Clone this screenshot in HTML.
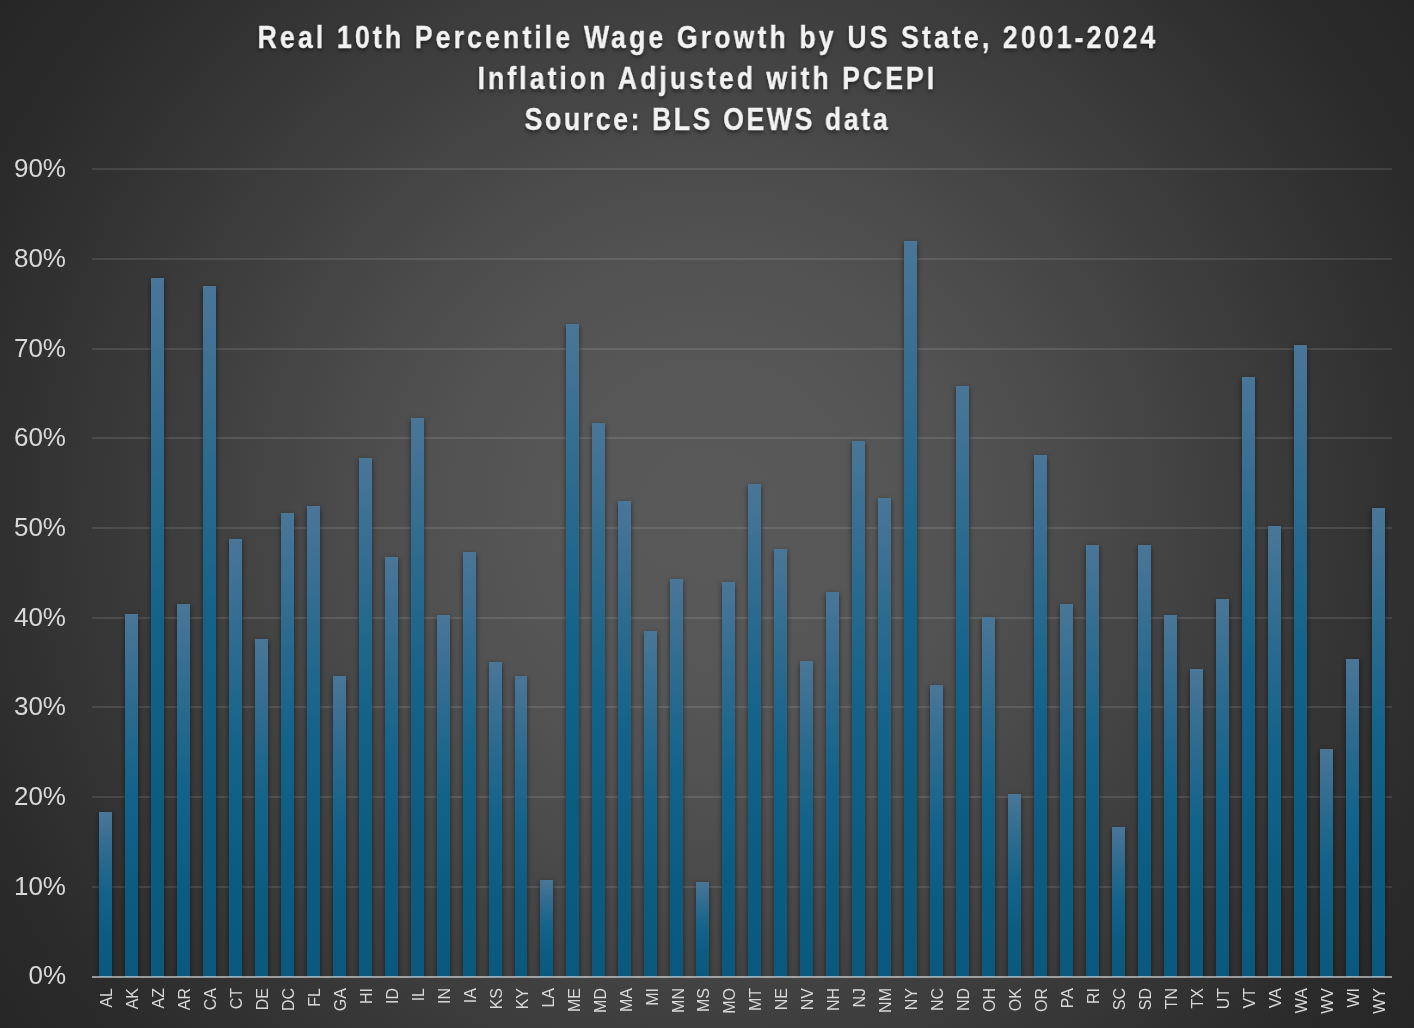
<!DOCTYPE html><html><head><meta charset="utf-8"><title>chart</title><style>
html,body{margin:0;padding:0}
body{width:1414px;height:1028px;overflow:hidden;position:relative;font-family:"Liberation Sans",sans-serif;
background:radial-gradient(circle farthest-corner at 50% 50%,#595959 0%,#585858 10%,#565656 20%,#525252 30%,#4c4c4c 40%,#454545 50%,#3e3e3e 60%,#373737 70%,#303030 80%,#2a2a2a 90%,#262626 100%);}
.t{position:absolute;left:0;width:1414px;text-align:center;color:#f2f2f2;font-weight:bold;font-size:31px;line-height:41px;white-space:nowrap}
.t span{display:inline-block;transform:scaleX(.86);transform-origin:50% 50%;text-shadow:0 2px 4px rgba(0,0,0,.6);will-change:transform;-webkit-text-stroke:.35px #f2f2f2}
.g{position:absolute;left:92px;width:1300px;height:2px;background:rgba(255,255,255,.105)}
.bw{position:absolute;left:0;top:0;width:1414px;height:978px;overflow:hidden}
.ax{position:absolute;left:92px;width:1300px;top:976px;height:2px;background:rgba(255,255,255,.52)}
.y{position:absolute;left:0;width:66px;text-align:right;color:#d9d9d9;font-size:26px;line-height:30px;height:30px;will-change:transform}
.b{position:absolute;width:13px;background:linear-gradient(to bottom,#4a7698 0%,#2c6b8f 25%,#12628a 50%,#0c5c82 75%,#0a587e 100%);box-shadow:0 2px 5px rgba(0,0,0,.55)}
.x{position:absolute;top:988px;width:26px;height:40px;color:#d9d9d9;font-size:16px;will-change:transform}
.x span{position:absolute;left:15px;top:0;transform-origin:0 0;transform:rotate(-90deg) translate(-100%,-50%);white-space:nowrap;line-height:20px;display:block}
</style></head><body>
<div class="t" style="top:16.5px"><span style="letter-spacing:3.62px;padding-left:3.62px;margin-left:-1.0px">Real 10th Percentile Wage Growth by US State, 2001-2024</span></div>
<div class="t" style="top:57.5px"><span style="letter-spacing:3.5px;padding-left:3.5px;margin-left:-2px">Inflation Adjusted with PCEPI</span></div>
<div class="t" style="top:98.5px"><span style="letter-spacing:3.02px;padding-left:3.02px;margin-left:-1.0px">Source: BLS OEWS data</span></div>
<div class="g" style="top:168px"></div>
<div class="g" style="top:258px"></div>
<div class="g" style="top:348px"></div>
<div class="g" style="top:437px"></div>
<div class="g" style="top:527px"></div>
<div class="g" style="top:617px"></div>
<div class="g" style="top:706px"></div>
<div class="g" style="top:796px"></div>
<div class="g" style="top:886px"></div>
<div class="y" style="top:152.5px">90%</div>
<div class="y" style="top:242.5px">80%</div>
<div class="y" style="top:332.5px">70%</div>
<div class="y" style="top:421.5px">60%</div>
<div class="y" style="top:511.5px">50%</div>
<div class="y" style="top:601.5px">40%</div>
<div class="y" style="top:690.5px">30%</div>
<div class="y" style="top:780.5px">20%</div>
<div class="y" style="top:870.5px">10%</div>
<div class="y" style="top:959.5px">0%</div>
<div class="bw">
<div class="b" style="left:99px;top:812px;height:165px"></div>
<div class="b" style="left:125px;top:614px;height:363px"></div>
<div class="b" style="left:151px;top:278px;height:699px"></div>
<div class="b" style="left:177px;top:604px;height:373px"></div>
<div class="b" style="left:203px;top:286px;height:691px"></div>
<div class="b" style="left:229px;top:539px;height:438px"></div>
<div class="b" style="left:255px;top:639px;height:338px"></div>
<div class="b" style="left:281px;top:513px;height:464px"></div>
<div class="b" style="left:307px;top:506px;height:471px"></div>
<div class="b" style="left:333px;top:676px;height:301px"></div>
<div class="b" style="left:359px;top:458px;height:519px"></div>
<div class="b" style="left:385px;top:557px;height:420px"></div>
<div class="b" style="left:411px;top:418px;height:559px"></div>
<div class="b" style="left:437px;top:615px;height:362px"></div>
<div class="b" style="left:463px;top:552px;height:425px"></div>
<div class="b" style="left:489px;top:662px;height:315px"></div>
<div class="b" style="left:515px;top:676px;height:301px;width:12px"></div>
<div class="b" style="left:540px;top:880px;height:97px"></div>
<div class="b" style="left:566px;top:324px;height:653px"></div>
<div class="b" style="left:592px;top:423px;height:554px"></div>
<div class="b" style="left:618px;top:501px;height:476px"></div>
<div class="b" style="left:644px;top:631px;height:346px"></div>
<div class="b" style="left:670px;top:579px;height:398px"></div>
<div class="b" style="left:696px;top:882px;height:95px"></div>
<div class="b" style="left:722px;top:582px;height:395px"></div>
<div class="b" style="left:748px;top:484px;height:493px"></div>
<div class="b" style="left:774px;top:549px;height:428px"></div>
<div class="b" style="left:800px;top:661px;height:316px"></div>
<div class="b" style="left:826px;top:592px;height:385px"></div>
<div class="b" style="left:852px;top:441px;height:536px"></div>
<div class="b" style="left:878px;top:498px;height:479px"></div>
<div class="b" style="left:904px;top:241px;height:736px"></div>
<div class="b" style="left:930px;top:685px;height:292px"></div>
<div class="b" style="left:956px;top:386px;height:591px"></div>
<div class="b" style="left:982px;top:617px;height:360px"></div>
<div class="b" style="left:1008px;top:794px;height:183px"></div>
<div class="b" style="left:1034px;top:455px;height:522px"></div>
<div class="b" style="left:1060px;top:604px;height:373px"></div>
<div class="b" style="left:1086px;top:545px;height:432px"></div>
<div class="b" style="left:1112px;top:827px;height:150px"></div>
<div class="b" style="left:1138px;top:545px;height:432px"></div>
<div class="b" style="left:1164px;top:615px;height:362px"></div>
<div class="b" style="left:1190px;top:669px;height:308px"></div>
<div class="b" style="left:1216px;top:599px;height:378px"></div>
<div class="b" style="left:1242px;top:377px;height:600px"></div>
<div class="b" style="left:1268px;top:526px;height:451px"></div>
<div class="b" style="left:1294px;top:345px;height:632px"></div>
<div class="b" style="left:1320px;top:749px;height:228px"></div>
<div class="b" style="left:1346px;top:659px;height:318px"></div>
<div class="b" style="left:1372px;top:508px;height:469px"></div>
</div>
<div class="ax"></div>
<div class="x" style="left:92px"><span>AL</span></div>
<div class="x" style="left:118px"><span>AK</span></div>
<div class="x" style="left:144px"><span>AZ</span></div>
<div class="x" style="left:170px"><span>AR</span></div>
<div class="x" style="left:196px"><span>CA</span></div>
<div class="x" style="left:222px"><span>CT</span></div>
<div class="x" style="left:248px"><span>DE</span></div>
<div class="x" style="left:274px"><span>DC</span></div>
<div class="x" style="left:300px"><span>FL</span></div>
<div class="x" style="left:326px"><span>GA</span></div>
<div class="x" style="left:352px"><span>HI</span></div>
<div class="x" style="left:378px"><span>ID</span></div>
<div class="x" style="left:404px"><span>IL</span></div>
<div class="x" style="left:430px"><span>IN</span></div>
<div class="x" style="left:456px"><span>IA</span></div>
<div class="x" style="left:482px"><span>KS</span></div>
<div class="x" style="left:508px"><span>KY</span></div>
<div class="x" style="left:534px"><span>LA</span></div>
<div class="x" style="left:560px"><span>ME</span></div>
<div class="x" style="left:586px"><span>MD</span></div>
<div class="x" style="left:612px"><span>MA</span></div>
<div class="x" style="left:638px"><span>MI</span></div>
<div class="x" style="left:664px"><span>MN</span></div>
<div class="x" style="left:689px"><span>MS</span></div>
<div class="x" style="left:715px"><span>MO</span></div>
<div class="x" style="left:741px"><span>MT</span></div>
<div class="x" style="left:767px"><span>NE</span></div>
<div class="x" style="left:793px"><span>NV</span></div>
<div class="x" style="left:819px"><span>NH</span></div>
<div class="x" style="left:845px"><span>NJ</span></div>
<div class="x" style="left:871px"><span>NM</span></div>
<div class="x" style="left:897px"><span>NY</span></div>
<div class="x" style="left:923px"><span>NC</span></div>
<div class="x" style="left:949px"><span>ND</span></div>
<div class="x" style="left:975px"><span>OH</span></div>
<div class="x" style="left:1001px"><span>OK</span></div>
<div class="x" style="left:1027px"><span>OR</span></div>
<div class="x" style="left:1053px"><span>PA</span></div>
<div class="x" style="left:1079px"><span>RI</span></div>
<div class="x" style="left:1105px"><span>SC</span></div>
<div class="x" style="left:1131px"><span>SD</span></div>
<div class="x" style="left:1157px"><span>TN</span></div>
<div class="x" style="left:1183px"><span>TX</span></div>
<div class="x" style="left:1209px"><span>UT</span></div>
<div class="x" style="left:1235px"><span>VT</span></div>
<div class="x" style="left:1261px"><span>VA</span></div>
<div class="x" style="left:1287px"><span>WA</span></div>
<div class="x" style="left:1313px"><span>WV</span></div>
<div class="x" style="left:1339px"><span>WI</span></div>
<div class="x" style="left:1365px"><span>WY</span></div>
</body></html>
